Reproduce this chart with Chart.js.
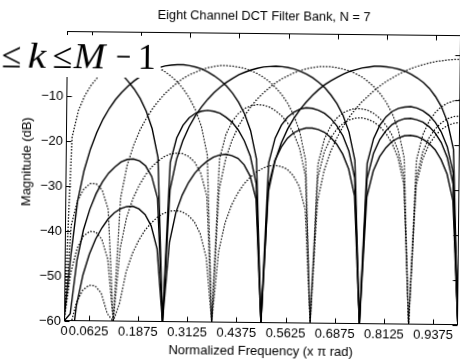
<!DOCTYPE html>
<html><head><meta charset="utf-8">
<script src="https://cdn.jsdelivr.net/npm/chart.js@4.4.1/dist/chart.umd.min.js"></script>
<style>
html,body{margin:0;padding:0;background:#fff;overflow:hidden;}
#wrap{position:relative;width:460px;height:363px;overflow:hidden;}
canvas{display:block;transform:rotate(0.6deg);transform-origin:64px 321px;}
</style></head><body>
<div id="wrap"><canvas id="c" width="460" height="363"></canvas></div>
<script>
// normalized frequency samples (x pi rad)
const freqs = [0,0.015625,0.03125,0.046875,0.0625,0.078125,0.09375,0.109375,0.125,0.140625,0.15625,0.171875,0.1875,0.203125,0.21875,0.234375,0.25,0.265625,0.28125,0.296875,0.3125,0.328125,0.34375,0.359375,0.375,0.390625,0.40625,0.421875,0.4375,0.453125,0.46875,0.484375,0.5,0.515625,0.53125,0.546875,0.5625,0.578125,0.59375,0.609375,0.625,0.640625,0.65625,0.671875,0.6875,0.703125,0.71875,0.734375,0.75,0.765625,0.78125,0.796875,0.8125,0.828125,0.84375,0.859375,0.875,0.890625,0.90625,0.921875,0.9375,0.953125,0.96875,0.984375,1];

// magnitude (dB) of the eight channel filters, k = 0..7
const h0 = [0,-0.1,-0.2,-0.5,-0.9,-1.4,-2.1,-2.9,-3.9,-5.0,-6.5,-8.2,-10.3,-13.1,-17.0,-23.4,-60,-24.4,-19.0,-16.2,-14.5,-13.5,-13.0,-12.8,-13.0,-13.4,-14.3,-15.4,-17.1,-19.5,-22.9,-29.0,-60,-29.5,-23.8,-20.8,-18.8,-17.6,-16.9,-16.5,-16.5,-16.8,-17.4,-18.5,-20.0,-22.2,-25.5,-31.5,-60,-31.7,-25.9,-22.7,-20.7,-19.3,-18.5,-18.0,-17.9,-18.1,-18.7,-19.6,-21.0,-23.2,-26.4,-32.3,-60];
const h1 = [-60,-19.1,-13.1,-9.8,-7.5,-5.8,-4.6,-3.7,-3.0,-2.6,-2.3,-2.2,-2.3,-2.5,-2.9,-3.5,-4.3,-5.3,-6.5,-8.1,-10.1,-12.7,-16.4,-22.7,-60,-23.6,-18.1,-15.2,-13.4,-12.3,-11.7,-11.4,-11.5,-11.9,-12.7,-13.8,-15.4,-17.7,-21.1,-27.2,-60,-27.5,-21.8,-18.7,-16.7,-15.4,-14.6,-14.2,-14.1,-14.4,-15.0,-16.0,-17.5,-19.7,-22.9,-28.9,-60,-29.0,-23.1,-19.9,-17.9,-16.5,-15.6,-15.1,-14.9];
const h2 = [-60,-45.4,-33.4,-26.5,-21.7,-18.0,-15.0,-12.6,-10.6,-9.0,-7.6,-6.4,-5.4,-4.6,-3.9,-3.4,-3.0,-2.8,-2.7,-2.7,-2.9,-3.2,-3.6,-4.3,-5.1,-6.1,-7.3,-8.9,-10.9,-13.5,-17.2,-23.5,-60,-24.3,-18.8,-15.9,-14.1,-13.0,-12.3,-12.0,-12.1,-12.5,-13.2,-14.3,-15.9,-18.1,-21.5,-27.5,-60,-27.7,-22.0,-18.9,-16.9,-15.5,-14.7,-14.2,-14.1,-14.4,-14.9,-15.9,-17.3,-19.4,-22.7,-28.6,-60];
const h3 = [-60,-38.8,-33.2,-30.6,-29.4,-29.4,-30.8,-35.1,-60,-32.4,-25.2,-20.8,-17.4,-14.8,-12.6,-10.8,-9.2,-7.9,-6.7,-5.7,-4.9,-4.3,-3.7,-3.3,-3.0,-2.8,-2.8,-2.9,-3.1,-3.4,-3.9,-4.5,-5.3,-6.3,-7.6,-9.1,-11.1,-13.7,-17.4,-23.7,-60,-24.5,-18.9,-16.0,-14.2,-13.0,-12.4,-12.0,-12.1,-12.4,-13.1,-14.2,-15.7,-17.9,-21.3,-27.2,-60,-27.4,-21.6,-18.4,-16.4,-15.0,-14.1,-13.6,-13.5];
const h4 = [-60,-58.4,-46.5,-39.7,-35.1,-31.6,-29.0,-27.0,-25.6,-24.5,-23.9,-23.8,-24.2,-25.3,-27.6,-32.5,-60,-30.6,-23.8,-19.6,-16.5,-14.0,-12.0,-10.3,-8.8,-7.6,-6.5,-5.6,-4.8,-4.2,-3.7,-3.3,-3.0,-2.9,-2.8,-2.9,-3.1,-3.4,-3.9,-4.5,-5.3,-6.3,-7.5,-9.1,-11.0,-13.6,-17.3,-23.6,-60,-24.2,-18.7,-15.7,-13.8,-12.6,-11.9,-11.6,-11.5,-11.8,-12.4,-13.4,-14.9,-17.1,-20.4,-26.2,-60];
const h5 = [-60,-49.3,-43.8,-41.1,-40.0,-40.1,-41.7,-46.1,-60,-43.7,-36.8,-32.6,-29.6,-27.3,-25.5,-24.2,-23.2,-22.6,-22.4,-22.5,-23.1,-24.4,-26.9,-31.9,-60,-30.3,-23.5,-19.4,-16.3,-13.9,-11.9,-10.2,-8.8,-7.6,-6.5,-5.6,-4.9,-4.2,-3.7,-3.3,-3.0,-2.8,-2.8,-2.8,-3.0,-3.3,-3.7,-4.3,-5.0,-6.0,-7.2,-8.7,-10.6,-13.1,-16.7,-22.9,-60,-23.4,-17.7,-14.7,-12.7,-11.4,-10.6,-10.1,-9.9];
const h6 = [-60,-68.4,-56.5,-49.7,-45.1,-41.7,-39.2,-37.2,-35.8,-34.9,-34.4,-34.3,-34.9,-36.1,-38.6,-43.7,-60,-42.2,-35.6,-31.7,-28.9,-26.8,-25.3,-24.1,-23.2,-22.7,-22.5,-22.8,-23.4,-24.8,-27.3,-32.4,-60,-30.7,-24.0,-19.9,-16.8,-14.4,-12.4,-10.7,-9.2,-7.9,-6.8,-5.9,-5.1,-4.4,-3.8,-3.4,-3.0,-2.8,-2.6,-2.6,-2.7,-2.9,-3.2,-3.6,-4.3,-5.1,-6.1,-7.4,-9.2,-11.5,-14.9,-20.9,-60];
const h7 = [-60,-61.3,-55.8,-53.1,-52.0,-52.1,-53.7,-58.2,-60,-55.9,-49.0,-44.8,-41.9,-39.6,-38.0,-36.7,-35.8,-35.3,-35.2,-35.4,-36.2,-37.6,-40.3,-45.5,-60,-44.2,-37.8,-33.9,-31.2,-29.1,-27.6,-26.4,-25.6,-25.0,-24.9,-25.1,-25.7,-27.1,-29.5,-34.6,-60,-32.8,-26.0,-21.8,-18.7,-16.1,-14.0,-12.2,-10.6,-9.3,-8.0,-6.9,-5.9,-5.1,-4.3,-3.6,-3.0,-2.5,-2.1,-1.7,-1.4,-1.2,-1.0,-0.9,-0.9];

const xTickValues = [0,0.0625,0.1875,0.3125,0.4375,0.5625,0.6875,0.8125,0.9375,1];
const xTickLabels = ['0','0.0625','0.1875','0.3125','0.4375','0.5625','0.6875','0.8125','0.9375',''];
const yTickValues = [-60,-50,-40,-30,-20,-10,0];
const yTickLabels = ['\u221260','\u221250','\u221240','\u221230','\u221220','\u221210','0'];

const series = [h0,h1,h2,h3,h4,h5,h6,h7];
const SANS = '"Liberation Sans", Arial, Helvetica, sans-serif';
const SERIF = '"Liberation Serif", "Times New Roman", serif';
Chart.defaults.font.family = SANS;
Chart.defaults.color = '#000';

const framePlugin = {
  id: 'frame',
  afterDraw(chart) {
    const {ctx, chartArea: a, scales: {x, y}} = chart;
    ctx.save();
    ctx.strokeStyle = '#000';
    ctx.lineWidth = 1;
    const L = Math.round(a.left) + 0.5, R = Math.round(a.right) - 0.5;
    const T = Math.round(a.top) + 0.5, B = Math.round(a.bottom) - 0.5;
    ctx.strokeRect(L, T, R - L, B - T);
    ctx.beginPath();
    xTickValues.forEach(v => {
      if (v <= 0 || v >= 1) return;
      const px = Math.round(x.getPixelForValue(v)) + 0.5;
      ctx.moveTo(px, B); ctx.lineTo(px, B - 5);
      ctx.moveTo(px, T); ctx.lineTo(px, T + 5);
    });
    yTickValues.forEach(v => {
      const py = Math.round(y.getPixelForValue(v)) + 0.5;
      ctx.moveTo(L, py); ctx.lineTo(L + 5, py);
      ctx.moveTo(R, py); ctx.lineTo(R - 5, py);
    });
    ctx.stroke();
    // y axis title
    ctx.fillStyle = '#000';
    ctx.font = '13px ' + SANS;
    ctx.textAlign = 'center';
    ctx.textBaseline = 'middle';
    ctx.save();
    ctx.translate(25, 162);
    ctx.rotate(-Math.PI / 2);
    ctx.fillText('Magnitude (dB)', 0, 0);
    ctx.restore();
    // pasted formula strip from the scanned page
    ctx.fillStyle = '#fff';
    ctx.fillRect(-10, 35, 168, 42);
    ctx.fillStyle = '#000';
    ctx.textAlign = 'left';
    ctx.textBaseline = 'alphabetic';
    const parts = [['\u2264', -1, false, 1], ['k', 25, true, 1.15], ['\u2264', 50, false, 1], ['M', 71, true, 1.05], ['\u2212', 113, false, 0.75], ['1', 135, false, 1]];
    parts.forEach(([t, px, it, sx]) => {
      ctx.save();
      ctx.translate(px, 68);
      ctx.scale(sx, 1);
      ctx.font = (it ? 'italic ' : '') + '36px ' + SERIF;
      ctx.fillText(t, 0, 0);
      ctx.restore();
    });
    ctx.restore();
  }
};

new Chart(document.getElementById('c'), {
  type: 'line',
  data: {
    datasets: series.map((vals, k) => ({
      data: freqs.map((f, i) => ({x: f, y: vals[i]})),
      borderColor: '#000',
      borderWidth: k % 2 ? 1.25 : 1.4,
      borderDash: k % 2 ? [1.5, 1.6] : [],
      pointRadius: 0,
      tension: 0,
      fill: false
    }))
  },
  options: {
    responsive: false,
    animation: false,
    events: [],
    layout: {padding: {left: 0, right: 2, top: 0, bottom: 0}},
    plugins: {
      legend: {display: false},
      tooltip: {enabled: false},
      title: {
        display: true, text: 'Eight Channel DCT Filter Bank, N = 7', fullSize: false,
        font: {size: 12.8, weight: 'normal', family: SANS}, color: '#000',
        padding: {top: 7.2, bottom: 8.6}
      }
    },
    scales: {
      x: {
        type: 'linear', min: 0, max: 1,
        grid: {display: false, drawTicks: false},
        border: {display: false},
        afterBuildTicks: s => { s.ticks = xTickValues.map(v => ({value: v})); },
        afterFit: s => { s.height = 42; },
        ticks: {autoSkip: false, maxRotation: 0, minRotation: 0, padding: 2.2,
                font: {size: 13, family: SANS}, color: '#000',
                callback: (v, i) => xTickLabels[i]},
        title: {display: true, text: 'Normalized Frequency (x \u03c0 rad)',
                font: {size: 13, family: SANS}, color: '#000', padding: {top: 0, bottom: 6}}
      },
      y: {
        type: 'linear', min: -60, max: 4.5,
        grid: {display: false, drawTicks: false},
        border: {display: false},
        afterBuildTicks: s => { s.ticks = yTickValues.map(v => ({value: v})); },
        afterFit: s => { s.width = 64; },
        ticks: {padding: 3, font: {size: 13, family: SANS}, color: '#000',
                callback: (v, i) => yTickLabels[i]}
      }
    }
  },
  plugins: [framePlugin]
});
</script>
</body></html>
